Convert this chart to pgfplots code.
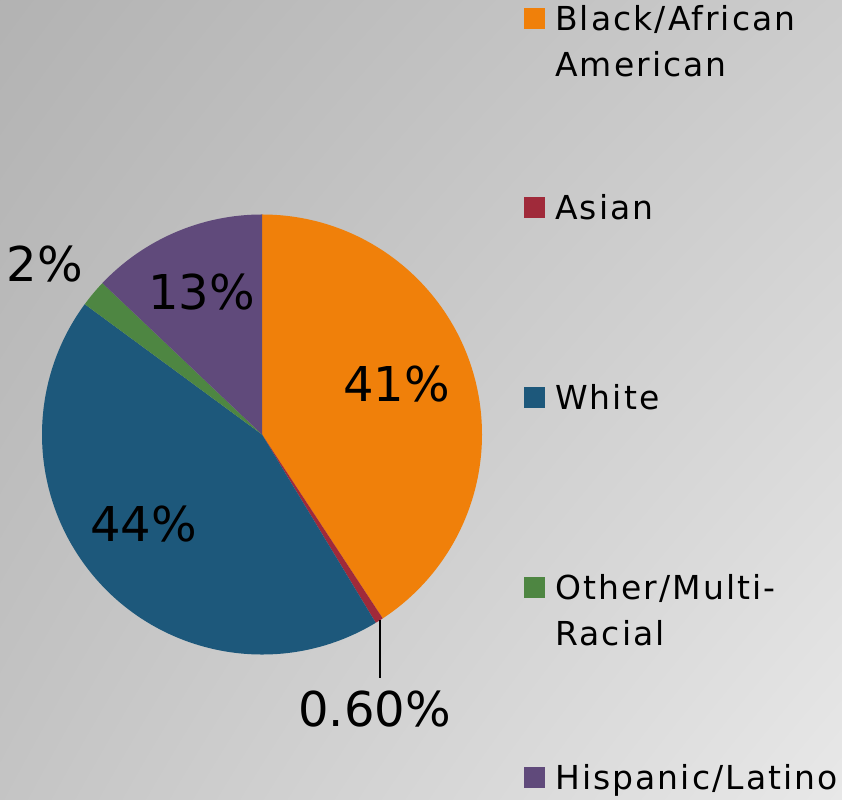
\documentclass[border=0pt]{standalone}
\usepackage{pgfplots}
\usepackage{pgfplotstable}
\pgfplotsset{compat=1.18}
\usetikzlibrary{shadings}
\usepackage{fontspec}
\setmainfont{DejaVu Sans}
\newfontfamily\legfont{DejaVu Sans}[LetterSpace=6.3]

\definecolor{c0}{HTML}{F0800A} % Black/African American
\definecolor{c1}{HTML}{A02A3A} % Asian
\definecolor{c2}{HTML}{1D587B} % White
\definecolor{c3}{HTML}{4E8642} % Other/Multi-Racial
\definecolor{c4}{HTML}{604A7B} % Hispanic/Latino

% shares in percent, clockwise from 12 o'clock
\pgfplotstableread{
name value
Black 41
Asian 0.6
White 44
Other 2
Hispanic 13
}\piedata

\begin{document}
\begin{tikzpicture}
% cumulative angles of the wedges
\xdef\total{0}
\foreach \i in {0,...,4}{%
  \pgfplotstablegetelem{\i}{value}\of\piedata
  \pgfmathsetmacro\t{\total+\pgfplotsretval}\xdef\total{\t}}
\xdef\cum{0}
\foreach \i in {0,...,4}{%
  \pgfplotstablegetelem{\i}{value}\of\piedata
  \let\v\pgfplotsretval
  \pgfmathsetmacro\a{90-\cum/\total*360}%
  \pgfmathsetmacro\b{90-(\cum+\v)/\total*360}%
  \expandafter\xdef\csname sa\i\endcsname{\a}%
  \expandafter\xdef\csname eb\i\endcsname{\b}%
  \pgfmathsetmacro\t{\cum+\v}\xdef\cum{\t}}

\begin{axis}[
  width=842bp, height=800bp, scale only axis,
  xmin=0, xmax=842, ymin=0, ymax=800,
  hide axis, clip=false
]
% background
\shade[upper left=black!30, upper right=black!20, lower left=black!23, lower right=black!9]
  (axis cs:0,0) rectangle (axis cs:842,800);

% wedges
\pgfplotsinvokeforeach{0,...,4}{
  \fill[c#1] (axis cs:262,365.5) -- ++(\csname sa#1\endcsname:220bp)
    arc[start angle=\csname sa#1\endcsname, end angle=\csname eb#1\endcsname, radius=220bp] -- cycle;
}

% data labels
\begin{scope}[every node/.style={inner sep=0pt, anchor=base, font=\fontsize{48bp}{56bp}\selectfont}]
\node at (axis cs:396.5,398) {41\%};
\node at (axis cs:143.5,258) {44\%};
\node at (axis cs:201.5,490) {13\%};
\node at (axis cs:45,518) {2\%};
\node at (axis cs:374.5,73) {0.60\%};
\end{scope}
\draw[line width=2bp] (axis cs:380,180) -- (axis cs:380,122);

% legend
\fill[c0] (axis cs:524,770.5) rectangle (axis cs:545,791.5);
\fill[c1] (axis cs:524,581.5) rectangle (axis cs:545,602.5);
\fill[c2] (axis cs:524,391.5) rectangle (axis cs:545,412.5);
\fill[c3] (axis cs:524,201.5) rectangle (axis cs:545,222.5);
\fill[c4] (axis cs:524,11.5) rectangle (axis cs:545,32.5);
\begin{scope}[every node/.style={inner sep=0pt, anchor=base west, font=\fontsize{33bp}{40bp}\legfont}]
\node at (axis cs:555,769) {Black/African};
\node at (axis cs:555,723) {American};
\node at (axis cs:555,580) {Asian};
\node at (axis cs:555,390) {White};
\node at (axis cs:555,200) {Other/Multi-};
\node at (axis cs:555,154) {Racial};
\node at (axis cs:555,10) {Hispanic/Latino};
\end{scope}
\end{axis}
\pgfresetboundingbox
\path[use as bounding box] (current axis.south west) rectangle (current axis.north east);
\end{tikzpicture}
\end{document}
